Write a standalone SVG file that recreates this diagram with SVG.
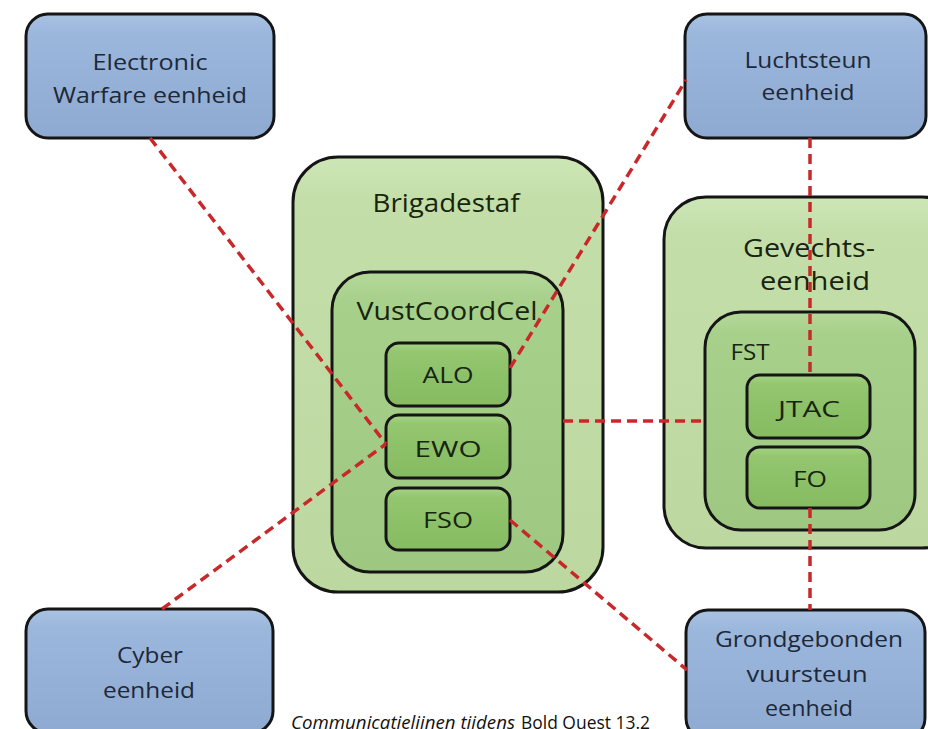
<svg xmlns="http://www.w3.org/2000/svg" width="928" height="729" viewBox="0 0 928 729">
<defs>
<linearGradient id="gBlue" x1="0" y1="0" x2="0" y2="1">
<stop offset="0" stop-color="#a9c2e2"/><stop offset="0.15" stop-color="#9bb7dc"/><stop offset="1" stop-color="#8faad2"/>
</linearGradient>
<linearGradient id="gG1" x1="0" y1="0" x2="0" y2="1">
<stop offset="0" stop-color="#cde6b6"/><stop offset="0.1" stop-color="#c4dea9"/><stop offset="1" stop-color="#bcd8a0"/>
</linearGradient>
<linearGradient id="gG2" x1="0" y1="0" x2="0" y2="1">
<stop offset="0" stop-color="#b4d89a"/><stop offset="0.1" stop-color="#a7d08a"/><stop offset="1" stop-color="#9ec882"/>
</linearGradient>
<linearGradient id="gG3" x1="0" y1="0" x2="0" y2="1">
<stop offset="0" stop-color="#a6d386"/><stop offset="0.15" stop-color="#93c66e"/><stop offset="1" stop-color="#86bb62"/>
</linearGradient>
</defs>
<style>
.blue{fill:url(#gBlue);stroke:#151515;stroke-width:3}
.g1{fill:url(#gG1);stroke:#151515;stroke-width:3}
.g2{fill:url(#gG2);stroke:#151515;stroke-width:3}
.g3{fill:url(#gG3);stroke:#151515;stroke-width:3}
text{font-family:"Open Sans","Noto Sans",sans-serif;text-anchor:middle}
.tb{fill:#1d2839;font-size:22px}
.tg{fill:#17240f;font-size:26px}
.ts{fill:#17240f;font-size:22px}
.cap{fill:#111;font-size:18px;text-anchor:start}
.con{fill:none;stroke:#c9282b;stroke-width:3.5;stroke-dasharray:10 6}
</style>
<rect width="928" height="729" fill="#ffffff"/>

<g id="brigadestaf">
<rect class="g1" x="293" y="157" width="310" height="435" rx="45"/>
<text class="tg" x="446" y="212" textLength="147" lengthAdjust="spacingAndGlyphs">Brigadestaf</text>
</g>
<g id="vustcoordcel">
<rect class="g2" x="332" y="272" width="231" height="300" rx="38"/>
<text class="tg" x="447" y="320" textLength="181" lengthAdjust="spacingAndGlyphs">VustCoordCel</text>
</g>
<g id="alo">
<rect class="g3" x="386" y="343" width="124" height="63" rx="13"/>
<text class="ts" x="448" y="383" textLength="51" lengthAdjust="spacingAndGlyphs">ALO</text>
</g>
<g id="ewo">
<rect class="g3" x="386" y="415" width="124" height="63" rx="13"/>
<text class="ts" x="448" y="457" textLength="67" lengthAdjust="spacingAndGlyphs">EWO</text>
</g>
<g id="fso">
<rect class="g3" x="386" y="488" width="124" height="62" rx="13"/>
<text class="ts" x="448" y="528" textLength="50" lengthAdjust="spacingAndGlyphs">FSO</text>
</g>

<g id="gevechtseenheid">
<rect class="g1" x="664" y="197" width="300" height="351" rx="42"/>
<text class="tg" x="809" y="257" textLength="132" lengthAdjust="spacingAndGlyphs">Gevechts-</text>
<text class="tg" x="815" y="290" textLength="110" lengthAdjust="spacingAndGlyphs">eenheid</text>
</g>
<g id="fst">
<rect class="g2" x="705" y="312" width="210" height="218" rx="36"/>
<text class="ts" x="750" y="360" textLength="39" lengthAdjust="spacingAndGlyphs">FST</text>
</g>
<g id="jtac">
<rect class="g3" x="747" y="375" width="123" height="63" rx="13"/>
<text class="ts" x="809" y="417" textLength="62" lengthAdjust="spacingAndGlyphs">JTAC</text>
</g>
<g id="fo">
<rect class="g3" x="747" y="447" width="123" height="61" rx="13"/>
<text class="ts" x="810" y="487" textLength="34" lengthAdjust="spacingAndGlyphs">FO</text>
</g>

<g id="ew">
<rect class="blue" x="26" y="14" width="248" height="124" rx="22"/>
<text class="tb" x="150" y="70" textLength="115" lengthAdjust="spacingAndGlyphs">Electronic</text>
<text class="tb" x="150" y="103" textLength="194" lengthAdjust="spacingAndGlyphs">Warfare eenheid</text>
</g>
<g id="luchtsteun">
<rect class="blue" x="685" y="14" width="241" height="124" rx="22"/>
<text class="tb" x="808" y="68" textLength="127" lengthAdjust="spacingAndGlyphs">Luchtsteun</text>
<text class="tb" x="808" y="100" textLength="93" lengthAdjust="spacingAndGlyphs">eenheid</text>
</g>
<g id="cyber">
<rect class="blue" x="26" y="609" width="247" height="124" rx="22"/>
<text class="tb" x="150" y="663" textLength="66" lengthAdjust="spacingAndGlyphs">Cyber</text>
<text class="tb" x="149" y="698" textLength="92" lengthAdjust="spacingAndGlyphs">eenheid</text>
</g>
<g id="grondgebonden">
<rect class="blue" x="686" y="610" width="239" height="130" rx="22"/>
<text class="tb" x="809" y="647" textLength="188" lengthAdjust="spacingAndGlyphs">Grondgebonden</text>
<text class="tb" x="807" y="682" textLength="121" lengthAdjust="spacingAndGlyphs">vuursteun</text>
<text class="tb" x="809" y="716" textLength="88" lengthAdjust="spacingAndGlyphs">eenheid</text>
</g>

<g id="connectors">
<line class="con" x1="150" y1="138" x2="386" y2="444"/>
<line class="con" x1="162" y1="609" x2="386" y2="444"/>
<line class="con" x1="510" y1="368" x2="686" y2="80"/>
<line class="con" x1="810" y1="138" x2="810" y2="375"/>
<line class="con" x1="563" y1="421" x2="705" y2="421"/>
<line class="con" x1="510" y1="520" x2="687" y2="670"/>
<line class="con" x1="810" y1="508" x2="810" y2="610"/>
</g>

<g id="caption">
<text class="cap" x="291" y="729" font-style="italic" textLength="224" lengthAdjust="spacingAndGlyphs">Communicatielijnen tijdens</text>
<text class="cap" x="521" y="729" textLength="129" lengthAdjust="spacingAndGlyphs">Bold Quest 13.2</text>
</g>
</svg>
